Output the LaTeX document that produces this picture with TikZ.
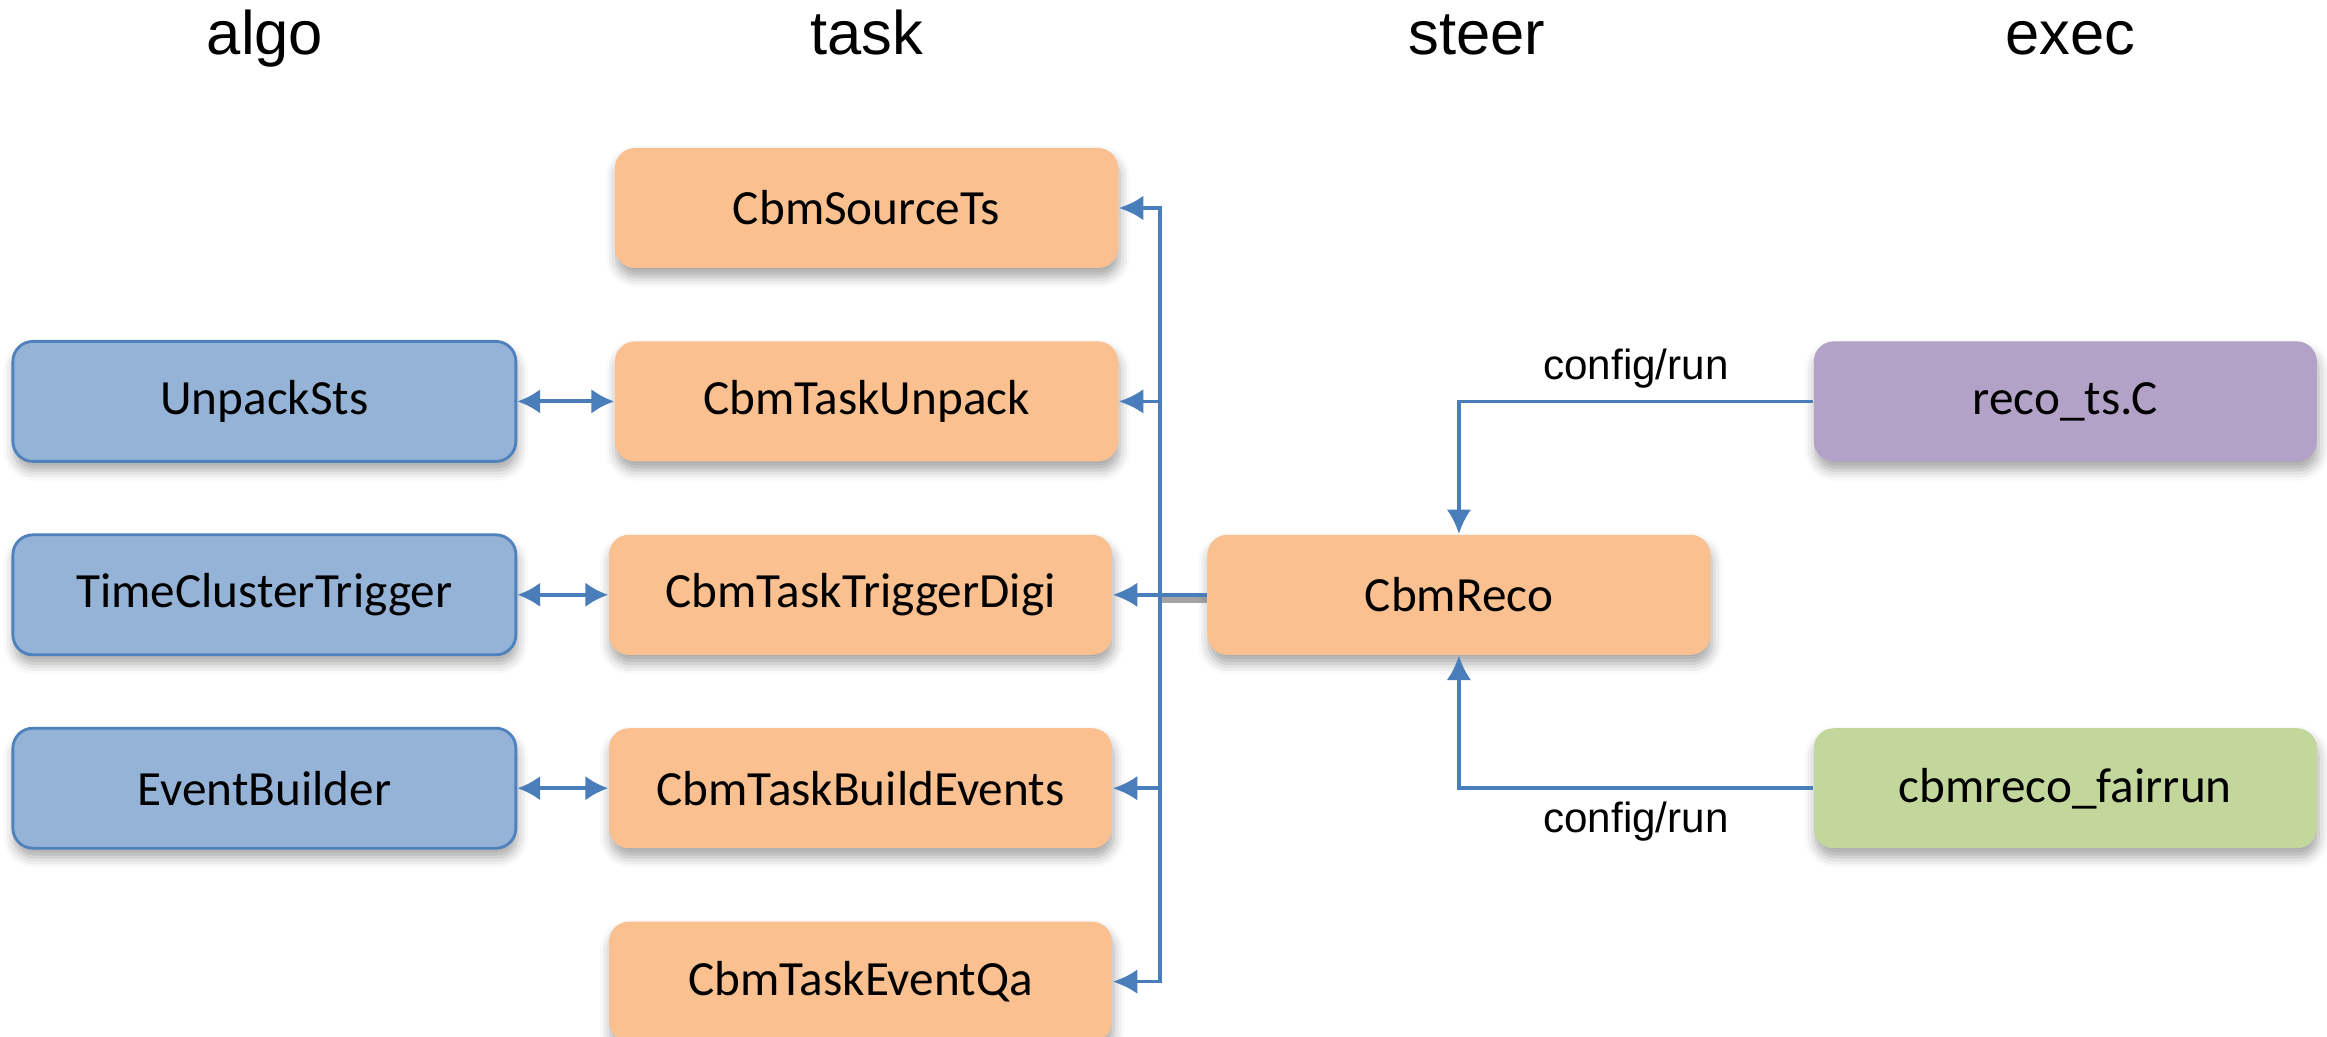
\documentclass[tikz,border=0pt]{standalone}
\usepackage{fontspec}
\setmainfont{Carlito}
\newfontfamily\arialfont{Liberation Sans}
\usetikzlibrary{positioning, arrows.meta, shadows.blur}

\definecolor{taskfill}{HTML}{FAC090}
\definecolor{algofill}{HTML}{95B3D7}
\definecolor{algoline}{HTML}{4F81BD}
\definecolor{execfill}{HTML}{B3A2C7}
\definecolor{runfill}{HTML}{C3D69B}
\definecolor{flowline}{HTML}{4A7EBB}

\begin{document}
\begin{tikzpicture}[
    every node/.style = {font=\fontsize{14}{16}\selectfont},
    box/.style = {rectangle, rounded corners=0.2cm, minimum width=5.03cm, minimum height=1.2cm,
        blur shadow={shadow xshift=0.4pt, shadow yshift=-2.5pt, shadow blur radius=3pt, shadow opacity=35}},
    taskbox/.style = {box, fill=taskfill},
    algobox/.style = {box, fill=algofill, draw=algoline, line width=0.8pt},
    execbox/.style = {box, fill=execfill},
    runbox/.style = {box, fill=runfill},
    head/.style = {font=\arialfont\fontsize{17.5}{20}\selectfont, anchor=base},
    cfg/.style = {text=black, font=\arialfont\fontsize{12}{14}\selectfont},
    flow/.style = {-{Latex[length=7pt, width=7pt]}, flowline, line width=1.05pt},
    both/.style = {{Latex[length=6.5pt, width=7pt]}-{Latex[length=6.5pt, width=7pt]}, flowline, line width=1.1pt}
]
    \useasboundingbox (0,0) rectangle (23.27,-10.37);

    \node[head] (halgo) at (2.65,-0.55) {algo};
    \node[head] (htask) at (8.67,-0.55) {task};
    \node[head] (hsteer) at (14.77,-0.55) {steer};
    \node[head] (hexec) at (20.7,-0.55) {exec};

    \node[taskbox] (tsrc) at (8.665,-2.08) {CbmSourceTs};
    \node[taskbox, below=0.72cm of tsrc] (tunpack) {CbmTaskUnpack};
    \node[taskbox, below=0.72cm of tunpack, xshift=-0.06cm] (ttrig) {CbmTaskTriggerDigi};
    \node[taskbox, below=0.72cm of ttrig] (tbuild) {CbmTaskBuildEvents};
    \node[taskbox, below=0.72cm of tbuild] (tqa) {CbmTaskEventQa};

    \node[algobox, left=0.97cm of tunpack] (unpack) {UnpackSts};
    \node[algobox, left=0.91cm of ttrig] (trigger) {TimeClusterTrigger};
    \node[algobox, left=0.91cm of tbuild] (builder) {EventBuilder};

    \node[taskbox, right=0.94cm of ttrig] (reco) {CbmReco};
    \node[execbox, anchor=west] (recots) at ([xshift=1.02cm]reco.east |- tunpack) {reco\_ts.C};
    \node[runbox, anchor=west] (fairrun) at ([xshift=1.02cm]reco.east |- tbuild) {cbmreco\_fairrun};

    \coordinate (bus) at (11.60,0);

    \draw[line width=2.4pt, black!65, opacity=0.55] ([yshift=-1.2pt]reco.west) -- ([yshift=-1.2pt]bus |- reco.west);
    \draw[flow] (reco.west) -- (bus |- reco.west) |- (tsrc.east);
    \draw[flow] (reco.west) -- (bus |- reco.west) |- (tunpack.east);
    \draw[flow] (reco.west) -- (ttrig.east);
    \draw[flow] (reco.west) -- (bus |- reco.west) |- (tbuild.east);
    \draw[flow] (reco.west) -- (bus |- reco.west) |- (tqa.east);

    \draw[both] (unpack.east) -- (tunpack.west);
    \draw[both] (trigger.east) -- (ttrig.west);
    \draw[both] (builder.east) -- (tbuild.west);

    \draw[flow] (recots.west) -| node[pos=0.25, above, cfg] {config/run} (reco.north);
    \draw[flow] (fairrun.west) -| node[pos=0.25, below, cfg] {config/run} (reco.south);
\end{tikzpicture}
\end{document}
